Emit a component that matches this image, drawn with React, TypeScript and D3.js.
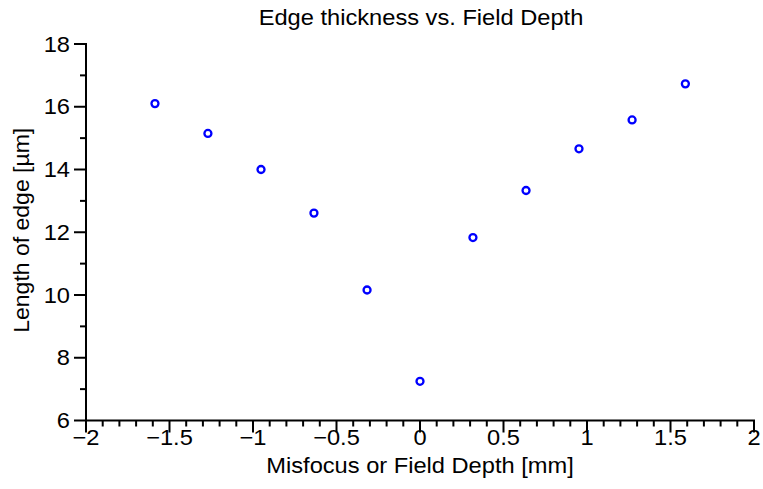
import React, { useEffect, useRef } from "react";
import * as d3 from "d3";

const xValues = [-1.587, -1.27, -0.952, -0.635, -0.317, 0, 0.317, 0.635, 0.952, 1.27, 1.589];
const yValues = [16.1, 15.15, 14.0, 12.61, 10.16, 7.25, 11.83, 13.33, 14.66, 15.58, 16.73];
const xTicks = [-2, -1.5, -1, -0.5, 0, 0.5, 1, 1.5, 2];
const yTicks = [6, 8, 10, 12, 14, 16, 18];
const titleText = "Edge thickness vs. Field Depth";
const xLabelText = "Misfocus or Field Depth [mm]";
const yLabelText = "Length of edge [\u00b5m]";

const W = 763;
const H = 489;
const FONT = "'Liberation Sans', Arial, Helvetica, sans-serif";
const FS = 21.5;
const SX = 1.1;

export default function App() {
  const ref = useRef<SVGSVGElement>(null);
  useEffect(() => {
    const svg = d3.select(ref.current);
    svg.selectAll("*").remove();
    const x = d3.scaleLinear().domain([-2, 2]).range([86, 754]);
    const y = d3.scaleLinear().domain([6, 18]).range([420.5, 44]);
    const g = svg.append("g");

    g.append("line").attr("x1", x(-2) - 1).attr("x2", x(2) + 1).attr("y1", y(6)).attr("y2", y(6))
      .attr("stroke", "#000").attr("stroke-width", 2);
    g.append("line").attr("x1", x(-2)).attr("x2", x(-2)).attr("y1", y(6) + 1).attr("y2", y(18) - 1)
      .attr("stroke", "#000").attr("stroke-width", 2);

    const isMajor = (d: number) => xTicks.some((t) => Math.abs(t - d) < 1e-9);
    const xMinor = d3.range(-20, 21).map((i) => i / 10);
    g.selectAll(".xmin").data(xMinor).enter().append("line")
      .attr("x1", (d) => x(d)).attr("x2", (d) => x(d))
      .attr("y1", y(6)).attr("y2", (d) => y(6) + (isMajor(d) ? 12 : 6))
      .attr("stroke", "#000").attr("stroke-width", 2);

    const yMinor = d3.range(6, 19);
    g.selectAll(".ymin").data(yMinor).enter().append("line")
      .attr("x1", x(-2)).attr("x2", (d) => x(-2) - (d % 2 === 0 ? 12 : 6))
      .attr("y1", (d) => y(d)).attr("y2", (d) => y(d))
      .attr("stroke", "#000").attr("stroke-width", 2);

    const fmt = (v: number) => (v < 0 ? "\u2212" + String(-v) : String(v));

    g.selectAll(".xl").data(xTicks).enter().append("text")
      .attr("transform", (d) => `translate(${x(d)},${445}) scale(${SX},1)`)
      .attr("text-anchor", "middle").attr("font-family", FONT).attr("font-size", FS)
      .text((d) => fmt(d));

    g.selectAll(".yl").data(yTicks).enter().append("text")
      .attr("transform", (d) => `translate(${70},${y(d) + 7.5}) scale(${SX},1)`)
      .attr("text-anchor", "end").attr("font-family", FONT).attr("font-size", FS)
      .text((d) => fmt(d));

    g.append("text").attr("transform", `translate(${(x(-2) + x(2)) / 2 + 1},${25}) scale(${SX},1)`)
      .attr("text-anchor", "middle").attr("font-family", FONT).attr("font-size", FS)
      .text(titleText);
    g.append("text").attr("transform", `translate(${(x(-2) + x(2)) / 2},${473}) scale(${SX},1)`)
      .attr("text-anchor", "middle").attr("font-family", FONT).attr("font-size", FS)
      .text(xLabelText);
    g.append("text").attr("transform", `translate(${29},${(y(6) + y(18)) / 2 - 2}) rotate(-90) scale(1.07,1)`)
      .attr("text-anchor", "middle").attr("font-family", FONT).attr("font-size", FS)
      .text(yLabelText);

    g.selectAll(".pt").data(xValues).enter().append("circle")
      .attr("cx", (d) => x(d)).attr("cy", (_d, i) => y(yValues[i])).attr("r", 3.5)
      .attr("fill", "none").attr("stroke", "#0000ff").attr("stroke-width", 2.3);
  }, []);
  return (
    <svg ref={ref} width={W} height={H} style={{ position: "absolute", left: 0, top: 0, background: "#fff" }} />
  );
}
